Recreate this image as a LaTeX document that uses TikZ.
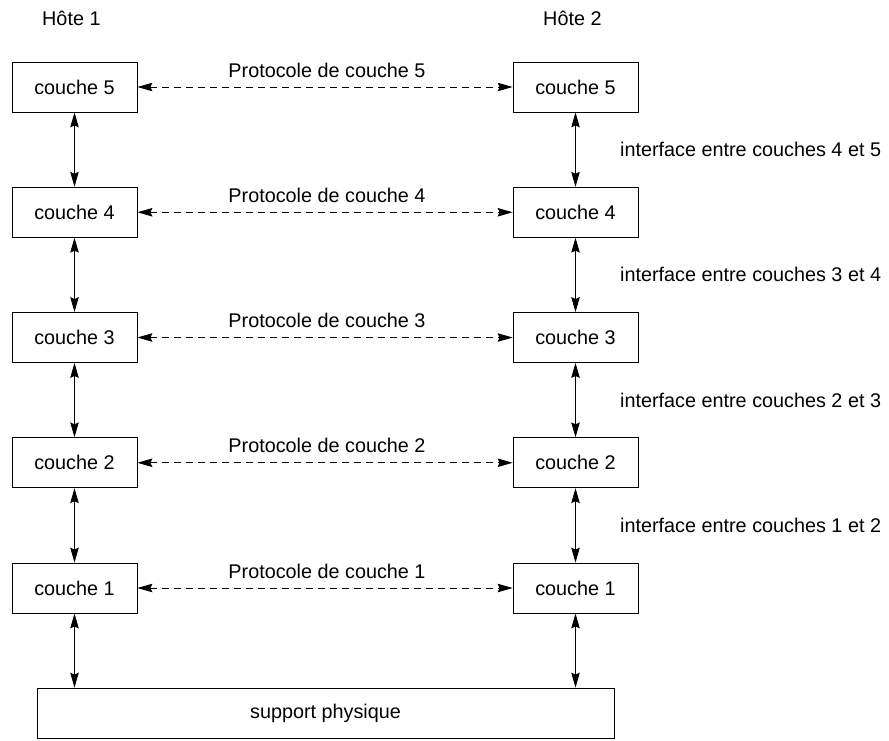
\documentclass[tikz,border=0pt]{standalone}
\usepackage{fontspec}
\setmainfont{Liberation Sans}
\usetikzlibrary{arrows.meta}
\begin{document}
\begin{tikzpicture}[x=1pt,y=1pt,
  font=\fontsize{19.8}{23}\selectfont,
  layer/.style={draw,line width=0.8pt,minimum width=125pt,minimum height=50pt,inner sep=0pt},
  medium/.style={draw,line width=0.8pt,minimum width=577pt,minimum height=50pt,inner sep=0pt},
  tip/.tip={Stealth[length=15pt,width=8.5pt,inset=2pt]},
  link/.style={line width=0.8pt,tip-tip},
  peer/.style={link,dash pattern=on 7pt off 5pt},
  lbl/.style={inner sep=0pt}]
\useasboundingbox (0,0) rectangle (889,-740);

% host titles
\node[lbl,anchor=base west] (h1) at (42,-25) {Hôte 1};
\node[lbl,anchor=base west] (h2) at (543,-25) {Hôte 2};

% layer stacks of both hosts
\foreach \n/\y in {5/-87,4/-212.25,3/-337.5,2/-462.75,1/-588}{
  \node[layer] (a\n) at (74.5,\y) {couche \n};
  \node[layer] (b\n) at (575.5,\y) {couche \n};
  \draw[peer] (a\n.east) -- (b\n.west);
  \node[lbl,anchor=base] (p\n) at (327,\y+10) {Protocole de couche \n};
}

% physical medium
\node[medium] (phy) at (325.5,-713) {support physique};

% interfaces between adjacent layers
\foreach \u/\l in {5/4,4/3,3/2,2/1}{
  \draw[link] (a\u.south) -- (a\l.north);
  \draw[link] (b\u.south) -- (b\l.north);
  \path (b\u.south) -- (b\l.north) coordinate[pos=0.5] (m\l);
  \node[lbl,anchor=base west] (i\l) at (620,0 |- m\l) [yshift=-7pt] {interface entre couches \l\ et \u};
}

\draw[link] (a1.south) -- (a1.south |- phy.north);
\draw[link] (b1.south) -- (b1.south |- phy.north);
\end{tikzpicture}
\end{document}
